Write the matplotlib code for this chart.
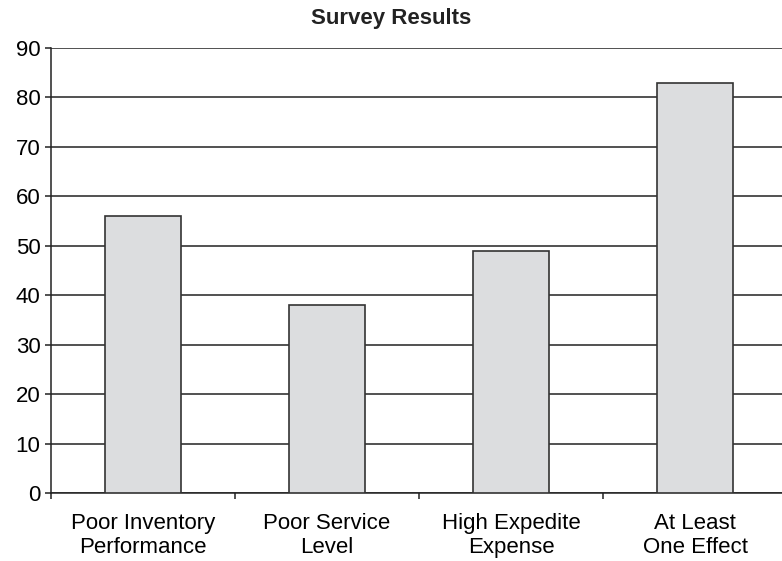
import matplotlib.pyplot as plt

# Survey data
categories = ['Poor Inventory\nPerformance', 'Poor Service\nLevel',
              'High Expedite\nExpense', 'At Least\nOne Effect']
values = [56, 38, 49, 83]

plt.rcParams['font.family'] = ['Liberation Sans', 'DejaVu Sans']

fig = plt.figure(figsize=(7.82, 5.61), dpi=100)
# plot area runs slightly past the right edge of the figure
ax = fig.add_axes([0.0652, 0.1212, 0.9412, 0.7932])

x = [i + 0.5 for i in range(len(categories))]
ax.bar(x, values, width=0.41, color='#dcdddf', edgecolor='#333333',
       linewidth=1.2, zorder=3)

ax.set_xlim(0, len(categories))
ax.set_ylim(0, 90)
ax.set_yticks(range(0, 91, 10))
ax.yaxis.grid(True, color='#222222', linewidth=1.1, zorder=0)

# category labels centred under bars, tick marks between categories
ax.set_xticks(range(len(categories) + 1))
ax.set_xticklabels([])
ax.set_xticks(x, minor=True)
ax.set_xticklabels(categories, minor=True, fontsize=16, linespacing=1.15)
ax.tick_params(axis='x', which='minor', length=0, pad=14.5)
ax.tick_params(axis='x', which='major', length=4.5, width=1.1, color='#222222')
ax.tick_params(axis='y', length=4.5, width=1.1, color='#222222', labelsize=16, pad=3)

for s in ['top', 'right']:
    ax.spines[s].set_visible(False)
for s in ['left', 'bottom']:
    ax.spines[s].set_color('#222222')
    ax.spines[s].set_linewidth(1.1)

fig.text(0.5, 1 - 24 / 561, 'Survey Results', fontsize=16, fontweight='bold',
         ha='center', va='baseline', color='#222222')

fig.savefig('out.png', dpi=100)
